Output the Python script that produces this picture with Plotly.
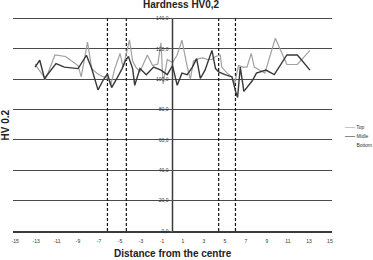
import plotly.graph_objects as go

# ---- data ----
top_x = [-13.1, -12.6, -12.1, -11.2, -10.2, -9.0, -8.7, -8.1, -7.7, -7.2, -6.6, -6.2, -5.9, -5.5, -5.0,
         -4.7, -4.4, -4.1, -3.8, -3.5, -3.1, -2.4, -1.9, -1.4, -1.1, -0.9, -0.5, 0.0, 0.43, 0.9, 1.38,
         1.7, 2.0, 2.5, 2.9, 3.3, 3.76, 4.1, 4.55, 4.7, 5.2, 5.67, 5.9, 6.3, 6.7, 7.1, 7.5, 7.8, 8.8,
         9.8, 10.9, 11.9, 13.1]
top_y = [110, 105, 100, 116, 115, 109, 101.5, 124.5, 107, 104, 101.5, 101.5, 96, 107, 117,
         108, 118, 126, 112, 108, 105, 116, 109, 110, 124, 97, 113, 111, 115.8, 125.7, 109,
         100, 112, 113.6, 114, 113, 113, 115, 115.8, 108, 104, 101.5, 97, 109, 108, 108, 117, 108, 104,
         127, 109.7, 109.7, 119]

mid_x = [-13.1, -12.65, -12.2, -11.1, -10.3, -9.0, -8.2, -7.7, -7.1, -6.6, -6.2, -5.8, -5.3, -4.8,
         -4.5, -4.2, -3.8, -3.6, -3.1, -2.5, -1.8, -1.1, -0.5, 0.0, 0.45, 0.9, 1.4, 1.9, 2.3, 2.65,
         3.1, 3.76, 4.1, 4.4, 5.0, 5.67, 5.98, 6.2, 6.46, 6.8, 7.6, 8.0, 8.9, 9.7, 10.9, 11.9, 13.1]
mid_y = [108, 112.5, 100.5, 110.3, 108, 107, 115.8, 107, 93, 99.5, 103.5, 94.5, 100.5, 107,
         112, 115, 107, 96, 107, 103, 108, 106, 103, 109, 96, 104, 103, 108, 113.6, 100.5,
         106, 119, 107, 104.8, 103, 101.5, 92.8, 88, 108, 92, 99, 104, 106, 103, 116, 116, 106]

zone_bounds = [-6.2, -4.4, 4.4, 6.0]

y_tick_vals = [0, 20, 40, 60, 80, 100, 120, 140]
y_tick_text = ["0,0", "20,0", "40,0", "60,0", "80,0", "100,0", "120,0", "140,0"]
x_tick_vals = [-15, -13, -11, -9, -7, -5, -3, -1, 1, 3, 5, 7, 9, 11, 13, 15]
x_tick_text = ["-15", "-13", "-11", "-9", "-7", "-5", "-3", "-1", "1", "3", "5", "7", "9", "11", "13", "15"]

series_names = ["Top", "Midle", "Bottom"]
series_colors = ["#a0a0a0", "#383838", "#ffffff"]

FONT = "Liberation Sans, Arial, sans-serif"

fig = go.Figure()

for b in zone_bounds:
    fig.add_trace(go.Scatter(x=[b, b], y=[0, 140], mode="lines",
                             line=dict(color="#111111", width=1.2, dash="3px,2px"),
                             showlegend=False, hoverinfo="skip"))

fig.add_trace(go.Scatter(x=top_x, y=top_y, mode="lines", name="Top",
                         line=dict(color=series_colors[0], width=1.2), showlegend=False))
fig.add_trace(go.Scatter(x=mid_x, y=mid_y, mode="lines", name="Midle",
                         line=dict(color=series_colors[1], width=1.4), showlegend=False))

# legend (manual, compact)
leg_y = [0.488, 0.446, 0.404]
for name, col, ly in zip(series_names, series_colors, leg_y):
    fig.add_annotation(xref="paper", yref="paper", x=1.034, y=ly, xanchor="left", yanchor="middle",
                       showarrow=False,
                       text=f"<span style='color:{col}'><b>——</b></span> {name}",
                       font=dict(family=FONT, size=5, color="#333333"))

fig.update_layout(
    width=373, height=260,
    margin=dict(l=13, r=41, t=17, b=29),
    paper_bgcolor="white", plot_bgcolor="white",
    font=dict(family=FONT, color="#333333"),
    title=dict(text="<b>Hardness HV0,2</b>", x=0.527, xref="paper", xanchor="center",
               y=0.984, yref="container", yanchor="middle",
               font=dict(family=FONT, size=10, color="#222222")),
    showlegend=False,
)

fig.update_xaxes(range=[-15.2, 15.2], domain=[0, 1],
                 tickvals=x_tick_vals, ticktext=x_tick_text,
                 tickfont=dict(size=5, color="#333333"), ticks="", ticklabelstandoff=4,
                 showgrid=False, zeroline=False,
                 showline=True, linecolor="#3a3a3a", linewidth=2)

fig.update_yaxes(range=[0, 141], anchor="free", position=0.5,
                 tickvals=y_tick_vals, ticktext=y_tick_text,
                 tickfont=dict(size=5, color="#333333"), ticks="outside", ticklen=3,
                 tickcolor="#555555",
                 showgrid=True, gridcolor="#4a4a4a", gridwidth=1.4,
                 zeroline=False, showline=False)

# y-axis line at x = 0 spanning the value range
fig.add_trace(go.Scatter(x=[0, 0], y=[0, 140], mode="lines",
                         line=dict(color="#3a3a3a", width=1.5),
                         showlegend=False, hoverinfo="skip"))

fig.add_annotation(xref="paper", yref="paper", x=0.5, y=-0.103, showarrow=False,
                   text="<b>Distance from the centre</b>", xanchor="center", yanchor="middle",
                   font=dict(family=FONT, size=10, color="#222222"))
fig.add_annotation(xref="paper", yref="paper", x=-0.025, y=0.493, showarrow=False,
                   text="<b>HV 0.2</b>", textangle=-90, xanchor="center", yanchor="middle",
                   font=dict(family=FONT, size=10, color="#222222"))

fig.write_html("out.html")
